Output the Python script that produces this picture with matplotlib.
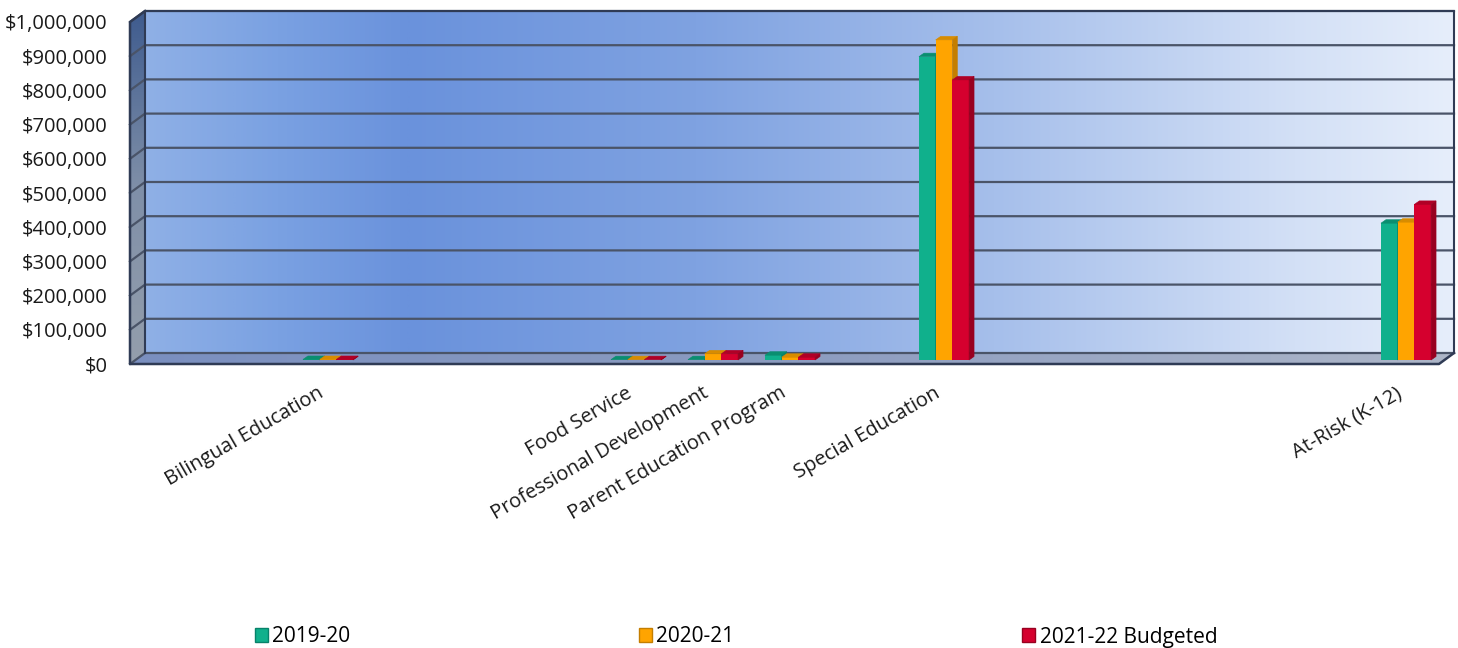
import numpy as np
import matplotlib.pyplot as plt
from matplotlib.colors import LinearSegmentedColormap
from matplotlib.patches import Polygon, Patch

plt.rcParams['font.family'] = ['Open Sans', 'DejaVu Sans']

# categories (blank ones are empty slots in the source chart)
categories = ["", "", "Bilingual Education", "", "", "", "Food Service",
              "Professional Development", "Parent Education Program", "",
              "Special Education", "", "", "", "", "", "At-Risk (K-12)"]
series = ["2019-20", "2020-21", "2021-22 Budgeted"]

nan = np.nan
vals_1920 = [nan, nan, 1500, nan, nan, nan, 1000, 1000, 14000, nan, 887000,
             nan, nan, nan, nan, nan, 400000]
vals_2021 = [nan, nan, 1500, nan, nan, nan, 1000, 18000, 8000, nan, 936000,
             nan, nan, nan, nan, nan, 403000]
vals_2122 = [nan, nan, 1500, nan, nan, nan, 1000, 18000, 8000, nan, 819000,
             nan, nan, nan, nan, nan, 455000]
yticks = np.arange(0, 1000001, 100000)

front_cols = ["#10b08c", "#ffa400", "#d5002e"]
top_cols = ["#0a8e70", "#d88c00", "#b00026"]
side_cols = ["#07826a", "#c47e00", "#98001f"]
edge = "#2f3b55"
grid_col = "#4a5468"

fig = plt.figure(figsize=(14.58, 6.48), dpi=100)
L, R, T, B = 130, 1439, 22, 364
ax = fig.add_axes([L / 1458, 1 - B / 648, (R - L) / 1458, (B - T) / 648])
n = len(categories)
x0, x1 = -0.5, n - 0.5
ax.set_xlim(x0, x1)
ax.set_ylim(0, 1e6)

# pixel -> data units, for the fake depth
xu = n / (R - L)
yu = 1e6 / (B - T)
DX, DY = 15 * xu, 11 * yu

# back wall
wall_cmap = LinearSegmentedColormap.from_list("wall", [
    (0.0, "#8fb0e6"), (0.1, "#7aa1e2"), (0.2, "#6a92dc"), (0.42, "#7fa2e1"),
    (0.65, "#a6bfeb"), (0.88, "#d3e0f6"), (1.0, "#e6eefb")])
ax.imshow(np.linspace(0, 1, 512).reshape(1, -1), cmap=wall_cmap,
          extent=(x0 + DX, x1 + DX, DY, 1e6 + DY), aspect='auto',
          zorder=0, clip_on=False, interpolation='bilinear')


def shaded_poly(pts, cmap, vertical, extent):
    poly = Polygon(pts, closed=True, transform=ax.transData,
                   facecolor='none', edgecolor='none')
    ax.add_patch(poly)
    if vertical:
        arr = np.linspace(0, 1, 256).reshape(-1, 1)
    else:
        arr = np.linspace(0, 1, 256).reshape(1, -1)
    im = ax.imshow(arr, cmap=cmap, extent=extent, aspect='auto', zorder=1,
                   interpolation='bilinear')
    im.set_clip_box(fig.bbox)
    im.set_clip_path(poly)


# left side wall
side_cmap = LinearSegmentedColormap.from_list("side", ["#3e5b8e", "#7f8fa8", "#949eac"])
side_pts = [(x0, 0), (x0, 1e6), (x0 + DX, 1e6 + DY), (x0 + DX, DY)]
shaded_poly(side_pts, side_cmap, True, (x0, x0 + DX, 0, 1e6 + DY))

# floor
floor_cmap = LinearSegmentedColormap.from_list("floor", ["#7a8fbf", "#8c9cc0", "#adb6c8"])
floor_pts = [(x0, 0), (x1, 0), (x1 + DX, DY), (x0 + DX, DY)]
shaded_poly(floor_pts, floor_cmap, False, (x0, x1 + DX, 0, DY))

# gridlines on back wall + side wall
for v in yticks:
    ax.plot([x0, x0 + DX, x1 + DX], [v, v + DY, v + DY], color=grid_col,
            lw=1.6, zorder=2, clip_on=False)

# outlines
ax.plot([x0 + DX, x0 + DX, x1 + DX, x1 + DX], [DY, 1e6 + DY, 1e6 + DY, DY],
        color=edge, lw=1.5, zorder=2, clip_on=False)
ax.plot([x0 + DX, x0, x0, x1, x1 + DX], [1e6 + DY, 1e6, 0, 0, DY],
        color=edge, lw=1.8, zorder=3, clip_on=False)

# bars with a little depth
w = 16.7 * xu
bx, by = 5.5 * xu, 4 * yu
ddx, ddy = 5 * xu, 3.5 * yu
xs = np.arange(n)
for i, vals in enumerate([vals_1920, vals_2021, vals_2122]):
    vals = np.array(vals, dtype=float)
    ok = ~np.isnan(vals)
    xpos = xs[ok] + (i - 1) * w + bx
    ax.bar(xpos, vals[ok], width=w, bottom=by, color=front_cols[i],
           zorder=5 + i, clip_on=False, linewidth=0)
    for xc, v in zip(xpos, vals[ok]):
        xl, xr, top = xc - w / 2, xc + w / 2, by + v
        ax.add_patch(Polygon([(xl, top), (xr, top), (xr + ddx, top + ddy), (xl + ddx, top + ddy)],
                             facecolor=top_cols[i], edgecolor=top_cols[i], lw=0.4,
                             zorder=5 + i, clip_on=False))
        ax.add_patch(Polygon([(xr, by), (xr, top), (xr + ddx, top + ddy), (xr + ddx, by + ddy)],
                             facecolor=side_cols[i], edgecolor=side_cols[i], lw=0.4,
                             zorder=5 + i, clip_on=False))

ax.set_yticks(yticks)
ax.set_yticklabels([f"${v:,.0f}" for v in yticks])
ax.set_xticks(xs)
ax.set_xticklabels(categories, rotation=30, ha='right', va='center',
                   rotation_mode='anchor')
ax.tick_params(length=0, labelsize=14.5, colors='#1a1a1a')
ax.tick_params(axis='y', pad=16)
ax.tick_params(axis='x', pad=20)
for s in ax.spines.values():
    s.set_visible(False)
ax.patch.set_visible(False)

handles = [Patch(facecolor=front_cols[i], edgecolor=side_cols[i], label=series[i])
           for i in range(3)]
fig.legend(handles=handles, loc='center left', bbox_to_anchor=(255 / 1458, 1 - 637 / 648),
           ncol=3, frameon=False, fontsize=15, handlelength=0.62, handleheight=0.62,
           handletextpad=0.2, columnspacing=13.85, borderpad=0, borderaxespad=0)

fig.savefig("out.png", dpi=100)
